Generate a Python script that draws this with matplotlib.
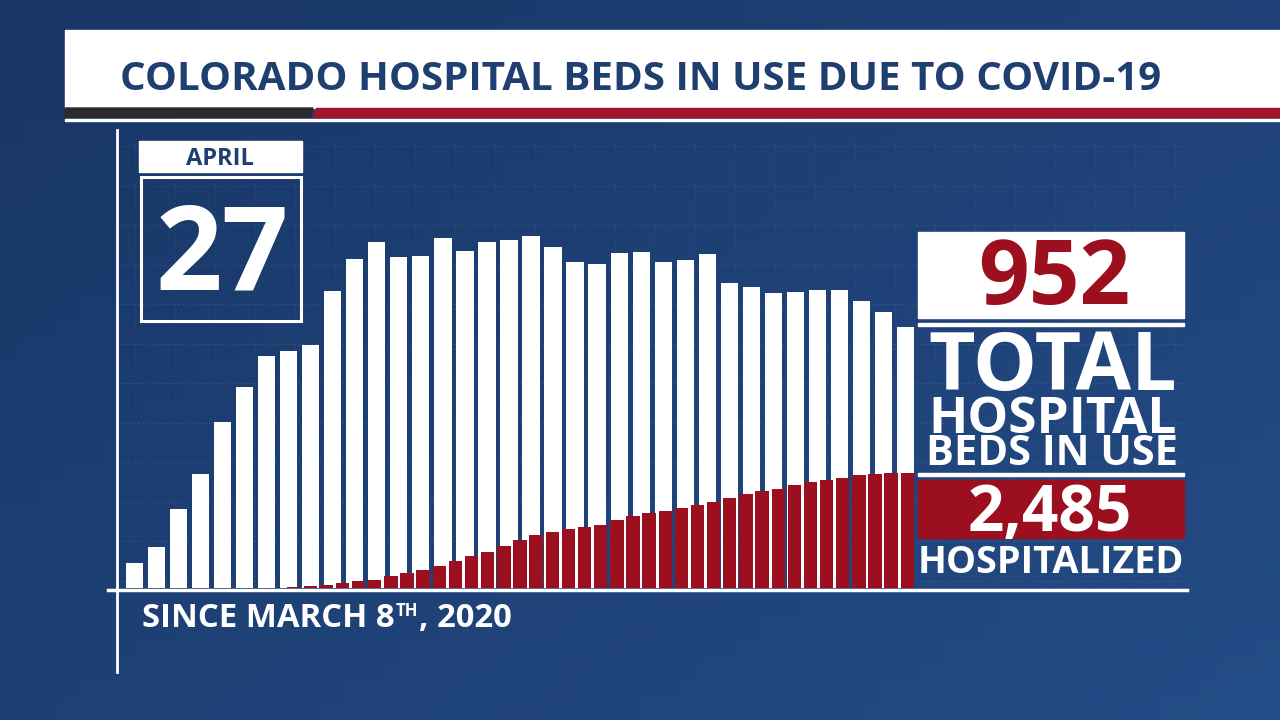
import numpy as np
import matplotlib.pyplot as plt
from matplotlib.patches import Rectangle, Polygon

plt.rcParams['font.family'] = ['Open Sans', 'DejaVu Sans']
plt.rcParams['font.weight'] = 'bold'

# total hospital beds in use (white bars)
beds_in_use = [91, 150, 288, 416, 606, 733, 846, 865, 887, 1083, 1200, 1262,
               1207, 1211, 1277, 1229, 1262, 1270, 1284, 1244, 1189, 1182, 1222, 1226,
               1189, 1197, 1218, 1113, 1098, 1076, 1080, 1087, 1087, 1047, 1007, 952]
# cumulative hospitalized (red bars), daily since March 8th
hospitalized = [0, 0, 0, 0, 0, 0, 0, 0, 0, 0,
                15, 37, 65, 102, 145, 179, 253, 324, 389, 469,
                577, 691, 784, 907, 1037, 1138, 1210, 1268, 1318, 1367,
                1475, 1549, 1620, 1663, 1728, 1786, 1858, 1944, 2024, 2102,
                2145, 2225, 2283, 2333, 2376, 2441, 2462, 2477, 2485]

title = 'COLORADO HOSPITAL BEDS IN USE DUE TO COVID-19'
month_label = 'APRIL'
day_label = '27'
since_label = 'SINCE MARCH 8'

NAVY = '#1f3f70'
RED = '#9c0f1f'
W, H = 1280, 720


def fig_box(x0, y0, x1, y1):
    # pixel box (top-left origin) -> figure fraction
    return [x0 / W, 1 - y1 / H, (x1 - x0) / W, (y1 - y0) / H]


fig = plt.figure(figsize=(12.8, 7.2), dpi=100)

# background layer in pixel coordinates
bg = fig.add_axes([0, 0, 1, 1])
bg.set_xlim(0, W)
bg.set_ylim(H, 0)
bg.axis('off')

gx, gy = np.meshgrid(np.linspace(0, 1, 64), np.linspace(0, 1, 36))
t = np.clip(0.55 * gx + 0.45 * gy, 0, 1)
c0 = np.array([24, 54, 102]) / 255
c1 = np.array([36, 76, 134]) / 255
grad = c0 + (c1 - c0) * t[..., None]
bg.imshow(grad, extent=[0, W, H, 0], aspect='auto', zorder=0)

# faint dotted grid behind the bars
for y in np.arange(146, 586, 39.5):
    bg.plot([120, 1186], [y, y], color='#9fb4d6', lw=0.8, ls=(0, (1, 3)), alpha=0.25, zorder=1)
for x in np.arange(135, 1186, 40):
    bg.plot([x, x], [135, 586], color='#9fb4d6', lw=0.8, ls=(0, (1, 3)), alpha=0.15, zorder=1)

# title banner
bg.add_patch(Rectangle((65, 30), W - 65, 78, color='white', zorder=2))
bg.add_patch(Polygon([(65, 108), (313, 108), (310, 117), (65, 117)], color='#2b2b2f', zorder=2))
bg.add_patch(Polygon([(316, 108), (W, 108), (W, 117), (313, 117)], color='#a3142a', zorder=2))
bg.add_patch(Rectangle((65, 118.5), W - 65, 2.5, color='white', zorder=2))
bg.text(641, 90, title, color=NAVY, fontsize=29, ha='center', va='baseline', zorder=3)

# axis lines
bg.plot([117, 117], [130, 672], color='white', lw=2, zorder=5)
bg.plot([108, 1187], [590, 590], color='white', lw=2.5, zorder=5)

# date box
bg.add_patch(Rectangle((139, 141), 163, 31, color='white', zorder=4))
bg.text(220, 165, month_label, color=NAVY, fontsize=17, ha='center', va='baseline', zorder=5)
bg.add_patch(Rectangle((140.5, 176.5), 160, 144, fill=False, ec='white', lw=2.2, zorder=4))
bg.text(222, 289, day_label, color='white', fontsize=84, ha='center', va='baseline', zorder=5)

# right-hand summary panel
bg.add_patch(Rectangle((918, 232), 266, 86, color='white', zorder=4))
bg.text(1054, 304, f'{beds_in_use[-1]}', color=RED, fontsize=64, ha='center', va='baseline', zorder=5)
bg.add_patch(Rectangle((918, 323), 266, 3, color='white', zorder=4))
bg.text(1053, 390, 'TOTAL', color='white', fontsize=58, ha='center', va='baseline', zorder=5)
bg.text(1053, 433, 'HOSPITAL', color='white', fontsize=37, ha='center', va='baseline', zorder=5)
bg.text(1052, 465, 'BEDS IN USE', color='white', fontsize=30, ha='center', va='baseline', zorder=5)
bg.add_patch(Rectangle((918, 473), 266, 3, color='white', zorder=4))
bg.add_patch(Rectangle((918, 480), 266, 58, color=RED, zorder=4))
bg.text(1050, 531, f'{hospitalized[-1]:,}', color='white', fontsize=46, ha='center', va='baseline', zorder=5)
bg.text(1051, 573, 'HOSPITALIZED', color='white', fontsize=27.3, ha='center', va='baseline', zorder=5)

# footnote with superscript
t1 = bg.text(142, 627, since_label, color='white', fontsize=23.7, ha='left', va='baseline', zorder=5)
t2 = bg.annotate('TH', xy=(1, 1), xycoords=t1, xytext=(1, 0), textcoords='offset points',
                 color='white', fontsize=12, ha='left', va='top', zorder=5)
bg.annotate(', 2020', xy=(1, 0), xycoords=(t2, t1), color='white', fontsize=23.7,
            ha='left', va='bottom', zorder=5)

# white bars: beds in use
ax = fig.add_axes(fig_box(126, 130, 914, 588))
ax.bar(range(len(beds_in_use)), beds_in_use, width=0.78, color='white', zorder=2)
ax.set_xlim(-0.39, len(beds_in_use) - 0.61)
ax.set_ylim(0, 1670)
ax.axis('off')

# red bars: cumulative hospitalized
ax2 = fig.add_axes(fig_box(126, 130, 914, 588))
ax2.bar(range(len(hospitalized)), hospitalized, width=0.83, color=RED, zorder=2)
ax2.set_xlim(-0.415, len(hospitalized) - 0.585)
ax2.set_ylim(0, 9900)
ax2.axis('off')

fig.savefig('out.png', dpi=100)
